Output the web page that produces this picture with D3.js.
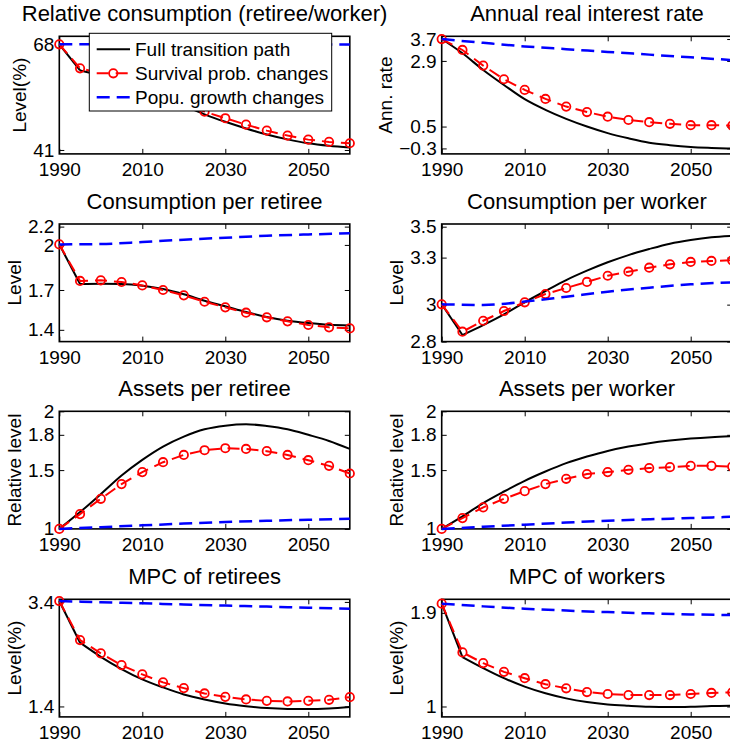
<!DOCTYPE html>
<html>
<head>
<meta charset="utf-8">
<script src="https://cdn.jsdelivr.net/npm/d3@7"></script>
<style>
  body { margin: 0; background: #fff; }
  svg { display: block; }
  text { font-family: "Liberation Sans", Arial, Helvetica, sans-serif; fill: #000; }
</style>
</head>
<body>
<svg id="chart" width="730" height="743"></svg>
<script>
// ---- Data -----------------------------------------------------------
const years5  = [1990, 1995, 2000, 2005, 2010, 2015, 2020, 2025, 2030, 2035, 2040, 2045, 2050, 2055, 2060];
const years10 = [1990, 2000, 2010, 2020, 2030, 2040, 2050, 2060];
const xTicks  = [1990, 2010, 2030, 2050];
const seriesNames = ["Full transition path", "Survival prob. changes", "Popu. growth changes"];

const titles  = ["Relative consumption (retiree/worker)", "Annual real interest rate",
                 "Consumption per retiree", "Consumption per worker",
                 "Assets per retiree", "Assets per worker",
                 "MPC of retirees", "MPC of workers"];
const yLabels = ["Level(%)", "Ann. rate", "Level", "Level",
                 "Relative level", "Relative level", "Level(%)", "Level(%)"];

// Relative consumption (retiree/worker), %
const relConsFull = [67.96, 61.3, 60.1, 58.7, 56.8, 54.6, 52.3, 50.1, 48.2, 46.5, 44.95, 43.7, 42.7, 42.05, 41.6];
const relConsSurv = [67.96, 61.84, 60.5, 58.9, 57.0, 55.0, 52.9, 50.78, 49.1, 47.47, 45.94, 44.67, 43.64, 43.06, 42.72];
const relConsPop  = [67.95, 67.94, 67.94, 67.93, 67.93, 67.92, 67.92, 67.91];
const relConsYLim = [40, 70];
const relConsTicks = [41, 68];
const relConsTickLabels = ["41", "68"];

// Annual real interest rate
const rateFull = [3.70, 3.18, 2.57, 2.02, 1.50, 1.11, 0.78, 0.50, 0.26, 0.07, -0.09, -0.18, -0.245, -0.28, -0.305];
const rateSurv = [3.70, 3.30, 2.73, 2.23, 1.84, 1.51, 1.23, 1.03, 0.86, 0.74, 0.66, 0.60, 0.55, 0.55, 0.535];
const ratePop  = [3.70, 3.56, 3.43, 3.33, 3.23, 3.13, 3.03, 2.93];
const rateYLim = [-0.5, 3.8];
const rateTicks = [-0.3, 0.5, 2.9, 3.7];
const rateTickLabels = ["\u22120.3", "0.5", "2.9", "3.7"];

// Consumption per retiree
const consRetFull = [2.044, 1.741, 1.743, 1.741, 1.728, 1.702, 1.662, 1.613, 1.570, 1.526, 1.488, 1.460, 1.442, 1.429, 1.424];
const consRetSurv = [2.044, 1.764, 1.769, 1.756, 1.730, 1.695, 1.654, 1.605, 1.562, 1.521, 1.486, 1.455, 1.427, 1.409, 1.401];
const consRetPop  = [2.044, 2.047, 2.062, 2.080, 2.095, 2.110, 2.120, 2.129];
const consRetYLim = [1.3, 2.2];
const consRetTicks = [1.39, 1.695, 2.04, 2.18];
const consRetTickLabels = ["1.4", "1.7", "2", "2.2"];

// Consumption per worker
const consWrkFull = [3.022, 2.839, 2.898, 2.962, 3.034, 3.101, 3.166, 3.222, 3.272, 3.315, 3.351, 3.383, 3.405, 3.421, 3.430];
const consWrkSurv = [3.022, 2.859, 2.924, 2.982, 3.034, 3.083, 3.119, 3.155, 3.192, 3.216, 3.240, 3.260, 3.274, 3.280, 3.284];
const consWrkPop  = [3.022, 3.018, 3.038, 3.067, 3.097, 3.121, 3.141, 3.153];
const consWrkYLim = [2.8, 3.5];
const consWrkTicks = [2.8, 3.02, 3.3, 3.484];
const consWrkTickLabels = ["2.8", "3", "3.3", "3.5"];

// Assets per retiree (relative to 1990)
const assetRetFull = [1.0, 1.143, 1.296, 1.454, 1.587, 1.700, 1.785, 1.847, 1.878, 1.890, 1.875, 1.847, 1.800, 1.748, 1.680];
const assetRetSurv = [1.0, 1.126, 1.256, 1.381, 1.483, 1.567, 1.629, 1.669, 1.686, 1.680, 1.661, 1.629, 1.584, 1.536, 1.471];
const assetRetPop  = [1.0, 1.015, 1.030, 1.045, 1.058, 1.069, 1.078, 1.086];

// Assets per worker (relative to 1990)
const assetWrkFull = [1.0, 1.106, 1.220, 1.318, 1.409, 1.488, 1.559, 1.615, 1.663, 1.700, 1.729, 1.751, 1.768, 1.780, 1.788];
const assetWrkSurv = [1.0, 1.092, 1.183, 1.256, 1.321, 1.381, 1.426, 1.466, 1.483, 1.502, 1.517, 1.525, 1.536, 1.536, 1.530];
const assetWrkPop  = [1.0, 1.018, 1.036, 1.054, 1.070, 1.082, 1.092, 1.103];
const assetYLim = [1, 2];
const assetTicks = [1, 1.5, 1.8, 2];
const assetTickLabels = ["1", "1.5", "1.8", "2"];

// MPC of retirees, %
const mpcRetFull = [3.417, 2.62, 2.35, 2.115, 1.917, 1.764, 1.630, 1.534, 1.458, 1.406, 1.368, 1.352, 1.350, 1.362, 1.390];
const mpcRetSurv = [3.417, 2.67, 2.416, 2.191, 2.013, 1.860, 1.751, 1.649, 1.584, 1.534, 1.507, 1.496, 1.507, 1.527, 1.578];
const mpcRetPop  = [3.417, 3.395, 3.373, 3.351, 3.330, 3.310, 3.290, 3.270];
const mpcRetYLim = [1.2, 3.45];
const mpcRetTicks = [1.4, 3.4];
const mpcRetTickLabels = ["1.4", "3.4"];

// MPC of workers, %
const mpcWrkFull = [1.988, 1.475, 1.369, 1.272, 1.191, 1.127, 1.078, 1.043, 1.020, 1.007, 0.997, 0.994, 0.997, 1.004, 1.007];
const mpcWrkSurv = [1.988, 1.520, 1.417, 1.333, 1.272, 1.214, 1.175, 1.139, 1.120, 1.110, 1.110, 1.110, 1.120, 1.130, 1.136];
const mpcWrkPop  = [1.988, 1.962, 1.940, 1.922, 1.907, 1.895, 1.885, 1.878];
const mpcWrkYLim = [0.9, 2.03];
const mpcWrkTicks = [1, 1.9];
const mpcWrkTickLabels = ["1", "1.9"];

// Panel table (row-major, two columns)
const panels = [
  { full: relConsFull,  surv: relConsSurv,  pop: relConsPop,  ylim: relConsYLim, ticks: relConsTicks, labels: relConsTickLabels, kink: true },
  { full: rateFull,     surv: rateSurv,     pop: ratePop,     ylim: rateYLim,    ticks: rateTicks,    labels: rateTickLabels,    kink: false },
  { full: consRetFull,  surv: consRetSurv,  pop: consRetPop,  ylim: consRetYLim, ticks: consRetTicks, labels: consRetTickLabels, kink: true },
  { full: consWrkFull,  surv: consWrkSurv,  pop: consWrkPop,  ylim: consWrkYLim, ticks: consWrkTicks, labels: consWrkTickLabels, kink: true },
  { full: assetRetFull, surv: assetRetSurv, pop: assetRetPop, ylim: assetYLim,   ticks: assetTicks,   labels: assetTickLabels,   kink: false },
  { full: assetWrkFull, surv: assetWrkSurv, pop: assetWrkPop, ylim: assetYLim,   ticks: assetTicks,   labels: assetTickLabels,   kink: false },
  { full: mpcRetFull,   surv: mpcRetSurv,   pop: mpcRetPop,   ylim: mpcRetYLim,  ticks: mpcRetTicks,  labels: mpcRetTickLabels,  kink: true },
  { full: mpcWrkFull,   surv: mpcWrkSurv,   pop: mpcWrkPop,   ylim: mpcWrkYLim,  ticks: mpcWrkTicks,  labels: mpcWrkTickLabels,  kink: true }
];

// ---- Layout ---------------------------------------------------------
const colX  = [59.3, 441.7];
const rowY  = [36.3, 224, 411.3, 599.3];
const plotW = 290.5;
const plotH = 117.6;
const tickFont = 19, titleFont = 22;
const colors = { full: "#000000", surv: "#ff0000", pop: "#0000ff" };

const svg = d3.select("#chart");

function styleAxis(g) {
  g.attr("font-size", tickFont)
   .attr("font-family", '"Liberation Sans", Arial, Helvetica, sans-serif');
  g.select(".domain").remove();
  g.selectAll(".tick line").attr("stroke", "#000").attr("stroke-width", 1);
}

panels.forEach((p, i) => {
  const x0 = colX[i % 2], y0 = rowY[Math.floor(i / 2)];
  const x = d3.scaleLinear().domain([1990, 2060]).range([x0, x0 + plotW]);
  const y = d3.scaleLinear().domain(p.ylim).range([y0 + plotH, y0]);
  const g = svg.append("g");

  // axes with inward ticks on all four sides
  g.append("g").attr("transform", `translate(0,${y0 + plotH})`)
    .call(d3.axisBottom(x).tickValues(xTicks).tickFormat(d3.format("d"))
      .tickSizeInner(-5).tickSizeOuter(0).tickPadding(9))
    .call(styleAxis);
  g.append("g").attr("transform", `translate(0,${y0})`)
    .call(d3.axisTop(x).tickValues(xTicks).tickFormat("").tickSizeInner(-5).tickSizeOuter(0))
    .call(styleAxis);
  const yAxis = g.append("g").attr("transform", `translate(${x0},0)`)
    .call(d3.axisLeft(y).tickValues(p.ticks).tickFormat((d, k) => p.labels[k])
      .tickSizeInner(-5).tickSizeOuter(0).tickPadding(5))
    .call(styleAxis);
  g.append("g").attr("transform", `translate(${x0 + plotW},0)`)
    .call(d3.axisRight(y).tickValues(p.ticks).tickFormat("").tickSizeInner(-5).tickSizeOuter(0))
    .call(styleAxis);

  // frame
  g.append("rect")
    .attr("x", x0).attr("y", y0).attr("width", plotW).attr("height", plotH)
    .attr("fill", "none").attr("stroke", "#000").attr("stroke-width", 1.6);

  // title
  g.append("text")
    .attr("x", x0 + plotW / 2).attr("y", y0 - 15.5)
    .attr("text-anchor", "middle").attr("font-size", titleFont)
    .text(titles[i]);

  // y label, placed left of the widest tick label
  let maxW = 0;
  yAxis.selectAll(".tick text").each(function () {
    maxW = Math.max(maxW, this.getComputedTextLength());
  });
  const xb = x0 - 5 - maxW - 7;
  g.append("text")
    .attr("transform", `translate(${xb},${y0 + plotH / 2}) rotate(-90)`)
    .attr("text-anchor", "middle").attr("font-size", tickFont)
    .text(yLabels[i]);

  // series
  const full = years5.map((yr, k) => [yr, p.full[k]]);
  const surv = years5.map((yr, k) => [yr, p.surv[k]]);
  const pop  = years10.map((yr, k) => [yr, p.pop[k]]);

  const linLine = d3.line().x(d => x(d[0])).y(d => y(d[1]));
  const smoothLine = d3.line().x(d => x(d[0])).y(d => y(d[1])).curve(d3.curveMonotoneX);

  const fullG = g.append("g").attr("fill", "none").attr("stroke", colors.full)
    .attr("stroke-width", 2).attr("stroke-linejoin", "round");
  if (p.kink) {
    fullG.append("path").attr("d", linLine(full.slice(0, 2)));
    fullG.append("path").attr("d", smoothLine(full.slice(1)));
  } else {
    fullG.append("path").attr("d", smoothLine(full));
  }

  g.append("path").attr("d", linLine(surv))
    .attr("fill", "none").attr("stroke", colors.surv).attr("stroke-width", 2)
    .attr("stroke-dasharray", "12,7");
  g.append("g").selectAll("circle").data(surv).join("circle")
    .attr("cx", d => x(d[0])).attr("cy", d => y(d[1])).attr("r", 4.2)
    .attr("fill", "none").attr("stroke", colors.surv).attr("stroke-width", 1.8);

  g.append("path").attr("d", smoothLine(pop))
    .attr("fill", "none").attr("stroke", colors.pop).attr("stroke-width", 2.5)
    .attr("stroke-dasharray", "13,7");
});

// ---- Legend (first panel) ------------------------------------------
const lg = svg.append("g").attr("transform", `translate(${colX[0] + 30},${rowY[0] - 3})`);
lg.append("rect").attr("x", 0).attr("y", 0).attr("width", 242.4).attr("height", 77.7)
  .attr("fill", "#fff").attr("stroke", "#000").attr("stroke-width", 1);
const legendStyles = [
  { color: colors.full, dash: null,   width: 2,   marker: false },
  { color: colors.surv, dash: "12,7", width: 2,   marker: true },
  { color: colors.pop,  dash: "13,7", width: 2.5, marker: false }
];
seriesNames.forEach((name, k) => {
  const cy = 16 + k * 24;
  const s = legendStyles[k];
  lg.append("line").attr("x1", 7.4).attr("x2", 40.7).attr("y1", cy).attr("y2", cy)
    .attr("stroke", s.color).attr("stroke-width", s.width)
    .attr("stroke-dasharray", s.dash);
  if (s.marker) {
    lg.append("circle").attr("cx", 24).attr("cy", cy).attr("r", 4.2)
      .attr("fill", "none").attr("stroke", s.color).attr("stroke-width", 1.8);
  }
  lg.append("text").attr("x", 45.7).attr("y", cy + 6.5)
    .attr("font-size", tickFont).text(name);
});
</script>
</body>
</html>
